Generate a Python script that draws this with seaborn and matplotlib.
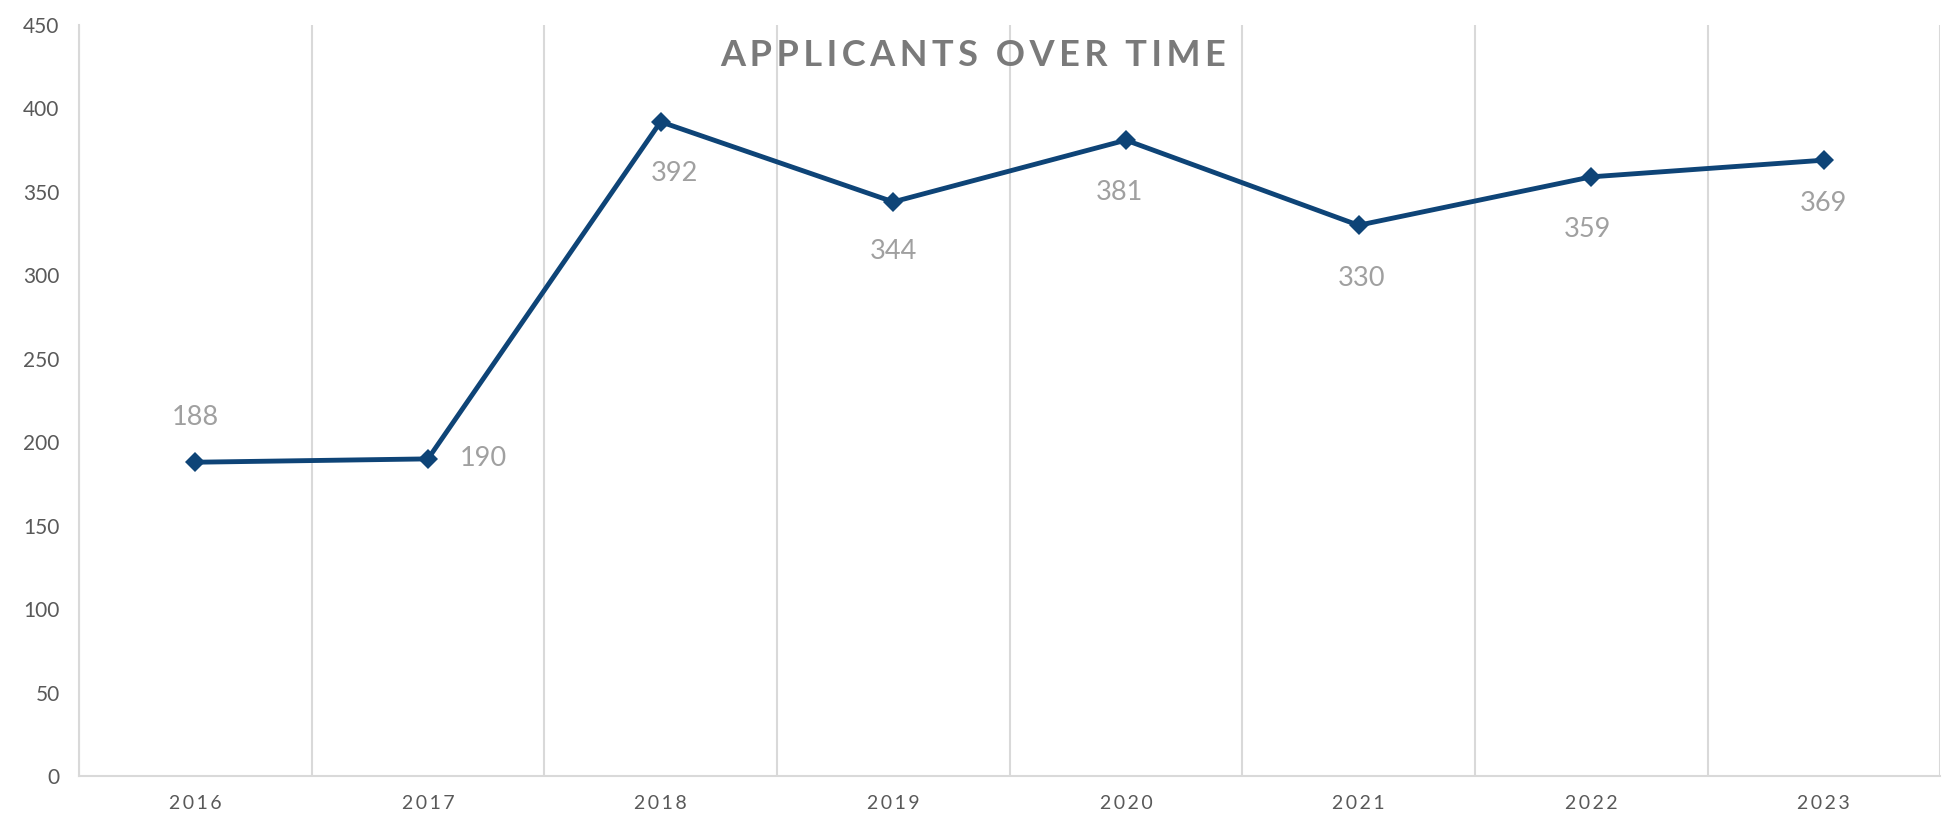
import matplotlib
matplotlib.use("Agg")
import matplotlib.pyplot as plt
from matplotlib.ticker import MultipleLocator
import pandas as pd
import seaborn as sns

# dados
anos = ["2016", "2017", "2018", "2019", "2020", "2021", "2022", "2023"]
candidatos = [188, 190, 392, 344, 381, 330, 359, 369]
# posição dos rótulos (deslocamento em pontos) como no original
rotulo_dx = [0, 40, 10, 0, -5, 2, -3, 0]
rotulo_dy = [32, 0, -37, -36, -38, -38, -38, -31]

df = pd.DataFrame({"Ano": anos, "Candidatos": candidatos})

sns.set_style("white")
plt.rcParams["font.family"] = ["Lato", "DejaVu Sans"]

fig = plt.figure(figsize=(19.46, 8.22), dpi=100)
ax = fig.add_axes([0.0406, 0.056, 0.9564, 0.9136])

cor_linha = "#0e4477"
sns.lineplot(data=df, x="Ano", y="Candidatos", ax=ax, color=cor_linha,
             linewidth=3.5, marker="D", markersize=10, markeredgewidth=0,
             sort=False)

for i, v in enumerate(candidatos):
    ax.annotate(str(v), (i, v), xytext=(rotulo_dx[i], rotulo_dy[i]),
                textcoords="offset points", ha="center", va="center",
                fontsize=19.5, color="#a0a0a0")

ax.set_xlim(-0.5, len(anos) - 0.5)
ax.set_ylim(0, 450)
ax.yaxis.set_major_locator(MultipleLocator(50))
ax.xaxis.set_minor_locator(MultipleLocator(1, offset=0.5))
ax.grid(False)
ax.grid(which="minor", axis="x", color="#d9d9d9", linewidth=1.5)
ax.tick_params(which="both", length=0)
ax.tick_params(axis="y", labelsize=15, labelcolor="#595959", pad=14)
ax.tick_params(axis="x", labelsize=14, labelcolor="#595959", pad=14)
ax.set_xticks(range(len(anos)))
ax.set_xticklabels(["\u2009".join(a) for a in anos])

for lado in ["top", "right"]:
    ax.spines[lado].set_visible(False)
for lado in ["left", "bottom"]:
    ax.spines[lado].set_color("#d9d9d9")
    ax.spines[lado].set_linewidth(1.5)

ax.set_xlabel("")
ax.set_ylabel("")

titulo = "\u2009".join("APPLICANTS OVER TIME")
fig.text(0.5, 0.932, titulo, ha="center", va="center", fontsize=26,
         fontweight="bold", color="#7a7a7a")

plt.savefig("out.png", dpi=100)
plt.close()
